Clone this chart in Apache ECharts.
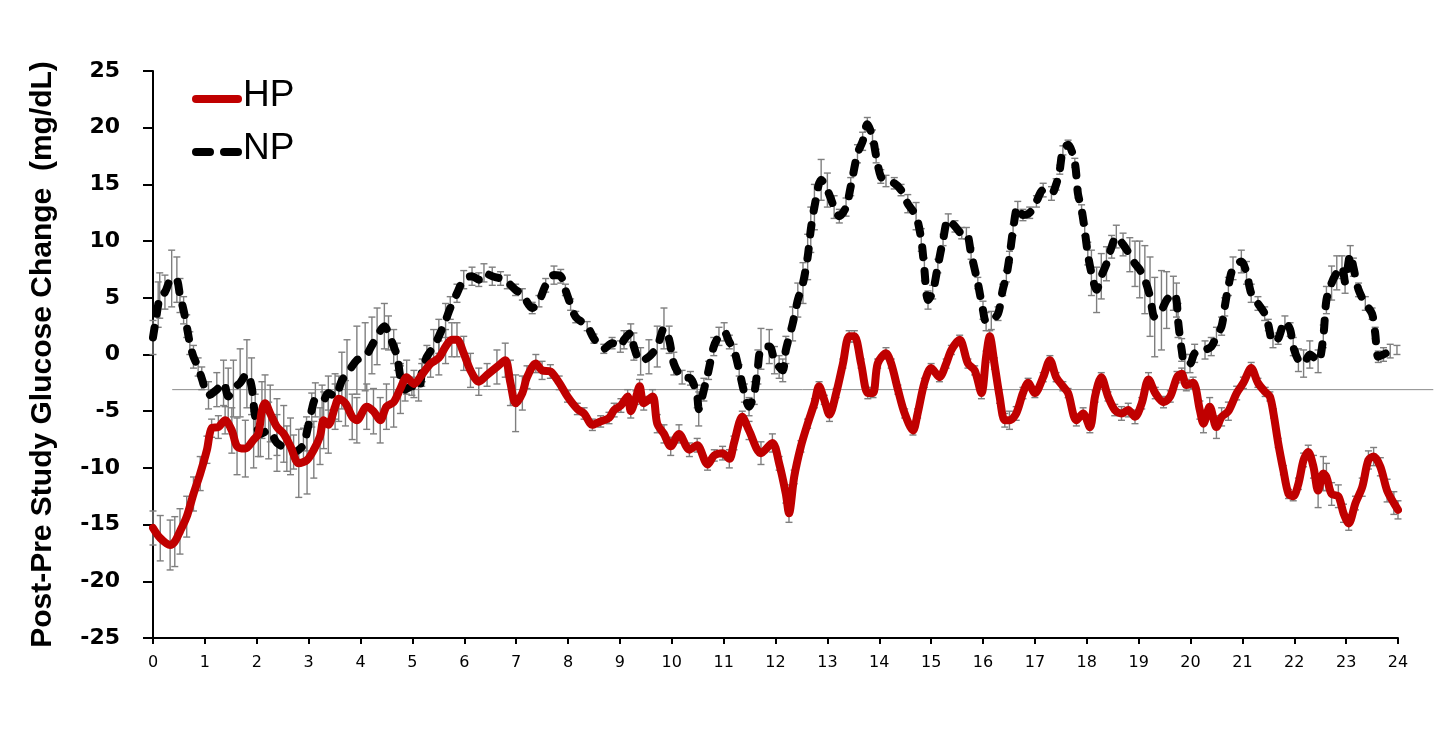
<!DOCTYPE html>
<html>
<head>
<meta charset="utf-8">
<title>Post-Pre Study Glucose Change</title>
<script src="https://cdn.jsdelivr.net/npm/echarts@6/dist/echarts.min.js"></script>
<style>
    html, body {margin: 0; padding: 0; background: #fff;}
    #chart {width: 1456px; height: 748px;}
</style>
</head>
<body>
<div id="chart"></div>
<script>
// hours after start, value (mg/dL), error bar half-width
const hpHours = [0.00, 0.14, 0.33, 0.42, 0.52, 0.65, 0.78, 0.91, 1.04, 1.13, 1.26, 1.39, 1.52, 1.62, 1.78, 1.94, 2.03, 2.10, 2.16, 2.26,
    2.39, 2.52, 2.65, 2.81, 2.97, 3.10, 3.22, 3.29, 3.38, 3.51, 3.58, 3.71, 3.84, 3.93, 4.12, 4.25, 4.38, 4.50, 4.64, 4.77,
    4.89, 5.03, 5.18, 5.35, 5.51, 5.64, 5.76, 5.86, 5.99, 6.12, 6.28, 6.44, 6.63, 6.79, 6.89, 6.99, 7.12, 7.21, 7.38, 7.50,
    7.66, 7.83, 7.99, 8.18, 8.31, 8.47, 8.63, 8.79, 8.89, 9.02, 9.15, 9.21, 9.31, 9.38, 9.46, 9.63, 9.72, 9.85, 9.98, 10.14,
    10.34, 10.49, 10.69, 10.82, 10.98, 11.11, 11.20, 11.36, 11.49, 11.72, 11.94, 12.07, 12.20, 12.26, 12.36, 12.49, 12.62, 12.75, 12.84, 12.94,
    13.04, 13.17, 13.30, 13.42, 13.52, 13.65, 13.78, 13.88, 13.97, 14.13, 14.23, 14.36, 14.49, 14.65, 14.74, 14.87, 15.00, 15.16, 15.29, 15.39,
    15.55, 15.71, 15.84, 15.97, 16.06, 16.13, 16.22, 16.32, 16.42, 16.51, 16.64, 16.77, 16.87, 17.00, 17.16, 17.29, 17.41, 17.54, 17.64, 17.80,
    17.93, 18.06, 18.16, 18.28, 18.41, 18.54, 18.67, 18.80, 18.93, 19.06, 19.19, 19.32, 19.48, 19.61, 19.74, 19.83, 19.92, 20.05, 20.18, 20.25,
    20.37, 20.50, 20.60, 20.73, 20.89, 21.02, 21.17, 21.30, 21.44, 21.53, 21.60, 21.69, 21.79, 21.89, 21.98, 22.08, 22.18, 22.27, 22.37, 22.46,
    22.56, 22.62, 22.72, 22.85, 22.95, 23.05, 23.18, 23.31, 23.43, 23.53, 23.66, 23.79, 23.92, 24.00];
const hpValues = [-15.3, -16.2, -16.8, -16.5, -15.6, -14.3, -12.3, -10.5, -8.4, -6.5, -6.4, -5.8, -6.7, -8.1, -8.3, -7.5, -7.0, -4.9, -4.3, -5.2,
    -6.4, -7.0, -8.1, -9.6, -9.3, -8.4, -7.2, -5.8, -6.2, -4.6, -3.9, -4.3, -5.5, -5.8, -4.6, -5.0, -5.8, -4.6, -4.2, -3.0,
    -2.0, -2.6, -1.8, -0.8, -0.3, 0.7, 1.3, 1.3, 0.1, -1.4, -2.4, -1.8, -1.1, -0.5, -2.5, -4.3, -3.4, -2.0, -0.8, -1.4,
    -1.5, -2.5, -3.7, -4.8, -5.2, -6.2, -5.9, -5.6, -4.9, -4.5, -3.7, -5.0, -3.8, -2.8, -4.3, -3.7, -6.1, -7.0, -8.1, -7.0,
    -8.4, -8.0, -9.7, -8.9, -8.7, -9.2, -7.8, -5.5, -6.7, -8.7, -7.8, -9.6, -12.3, -14.0, -10.8, -8.1, -6.1, -4.3, -2.8, -4.0,
    -5.3, -3.4, -0.8, 1.6, 1.6, -0.8, -3.4, -3.4, -0.8, 0.1, -0.8, -3.1, -5.2, -6.7, -5.2, -2.5, -1.2, -2.0, -0.8, 0.4,
    1.3, -0.8, -1.4, -3.4, -0.2, 1.6, -0.8, -3.7, -5.8, -5.8, -5.2, -3.4, -2.5, -3.4, -2.0, -0.5, -2.0, -2.8, -3.4, -5.8,
    -5.2, -6.4, -3.7, -2.0, -3.7, -4.9, -5.2, -4.9, -5.5, -4.3, -2.2, -3.4, -4.2, -3.7, -2.0, -1.7, -2.7, -2.5, -4.9, -6.1,
    -4.6, -6.4, -5.5, -5.0, -3.4, -2.5, -1.2, -2.5, -3.3, -3.7, -5.2, -7.8, -10.2, -12.3, -12.5, -11.4, -9.3, -8.6, -9.9, -12.0,
    -10.5, -10.8, -12.3, -12.5, -14.0, -14.9, -13.1, -11.7, -9.3, -9.0, -9.9, -12.0, -13.1, -13.7];
const hpErrors = [1.5, 2.0, 2.2, 2.2, 2.0, 1.8, 1.5, 1.5, 1.2, 0.8, 1.0, 1.2, 2.0, 2.5, 2.5, 2.5, 2.0, 2.5, 2.5, 2.5,
    2.5, 2.5, 2.5, 3.0, 3.0, 2.5, 2.5, 2.5, 2.5, 2.0, 2.0, 2.0, 2.0, 2.0, 2.0, 2.0, 2.0, 2.0, 2.2, 2.2,
    1.5, 1.2, 1.0, 1.2, 1.5, 1.5, 1.5, 1.5, 1.5, 1.5, 1.2, 1.0, 1.5, 1.5, 2.0, 2.5, 1.5, 1.0, 0.8, 0.8,
    0.6, 0.6, 0.5, 0.5, 0.5, 0.5, 0.5, 0.5, 0.6, 0.6, 0.6, 0.6, 0.6, 0.6, 0.6, 0.6, 0.8, 0.8, 0.8, 0.8,
    0.6, 0.6, 0.5, 0.5, 0.6, 0.8, 0.6, 0.5, 0.8, 1.0, 0.8, 0.6, 0.8, 0.8, 0.6, 0.5, 0.4, 0.4, 0.4, 0.4,
    0.6, 0.4, 0.4, 0.5, 0.5, 0.4, 0.5, 0.4, 0.4, 0.5, 0.4, 0.4, 0.4, 0.4, 0.4, 0.4, 0.4, 0.4, 0.4, 0.4,
    0.4, 0.4, 0.4, 0.5, 0.5, 0.5, 0.5, 0.6, 0.6, 0.8, 0.6, 0.5, 0.4, 0.4, 0.4, 0.4, 0.4, 0.4, 0.4, 0.5,
    0.5, 0.5, 0.5, 0.4, 0.4, 0.5, 0.6, 0.6, 0.6, 0.5, 0.6, 0.5, 0.5, 0.5, 0.5, 0.5, 0.5, 0.5, 0.8, 0.8,
    0.8, 1.0, 0.8, 0.8, 0.6, 0.5, 0.5, 0.4, 0.4, 0.4, 0.4, 0.4, 0.4, 0.4, 0.4, 0.5, 0.6, 0.6, 1.0, 1.5,
    1.5, 1.2, 1.0, 1.0, 0.8, 0.6, 0.6, 0.8, 0.8, 0.8, 0.8, 1.0, 1.0, 0.8];

const npHours = [0.00, 0.10, 0.13, 0.23, 0.36, 0.46, 0.52, 0.59, 0.65, 0.71, 0.78, 0.87, 0.94, 1.07, 1.23, 1.36, 1.45, 1.55, 1.68, 1.81,
    1.90, 1.97, 2.07, 2.23, 2.39, 2.58, 2.71, 2.90, 2.96, 3.06, 3.13, 3.26, 3.38, 3.51, 3.64, 3.74, 3.93, 4.09, 4.22, 4.32,
    4.46, 4.54, 4.64, 4.71, 4.77, 4.86, 4.99, 5.12, 5.19, 5.28, 5.41, 5.51, 5.64, 5.73, 5.86, 5.99, 6.15, 6.28, 6.38, 6.54,
    6.70, 6.83, 6.99, 7.12, 7.31, 7.44, 7.57, 7.73, 7.86, 7.95, 8.05, 8.15, 8.37, 8.50, 8.69, 8.85, 9.01, 9.08, 9.21, 9.27,
    9.40, 9.56, 9.72, 9.85, 9.95, 10.04, 10.20, 10.36, 10.49, 10.52, 10.62, 10.71, 10.81, 10.91, 11.01, 11.11, 11.20, 11.30, 11.40, 11.49,
    11.59, 11.66, 11.72, 11.88, 11.98, 12.07, 12.14, 12.20, 12.33, 12.43, 12.53, 12.62, 12.68, 12.75, 12.88, 13.00, 13.13, 13.23, 13.36, 13.45,
    13.58, 13.68, 13.77, 13.87, 13.94, 14.03, 14.13, 14.29, 14.42, 14.55, 14.71, 14.81, 14.87, 14.94, 15.03, 15.13, 15.23, 15.33, 15.46, 15.59,
    15.68, 15.77, 15.90, 16.00, 16.06, 16.16, 16.29, 16.38, 16.45, 16.51, 16.58, 16.67, 16.77, 16.90, 17.03, 17.16, 17.32, 17.41, 17.48, 17.54,
    17.64, 17.77, 17.83, 17.90, 17.96, 18.02, 18.09, 18.19, 18.28, 18.38, 18.48, 18.57, 18.70, 18.83, 18.93, 19.02, 19.12, 19.22, 19.31, 19.44,
    19.54, 19.67, 19.73, 19.76, 19.83, 19.89, 19.99, 20.08, 20.28, 20.40, 20.50, 20.60, 20.66, 20.73, 20.82, 20.98, 21.08, 21.17, 21.30, 21.43,
    21.50, 21.59, 21.69, 21.82, 21.92, 21.98, 22.08, 22.18, 22.30, 22.46, 22.56, 22.62, 22.72, 22.82, 22.92, 22.98, 23.08, 23.14, 23.24, 23.37,
    23.50, 23.56, 23.62, 23.72, 23.85, 23.98];
const npValues = [1.5, 4.4, 5.2, 5.5, 6.7, 6.6, 5.2, 3.9, 2.5, 1.0, -0.2, -1.1, -2.1, -3.6, -3.1, -2.5, -3.7, -3.0, -2.5, -1.7,
    -2.8, -5.5, -7.0, -6.7, -7.8, -8.3, -8.6, -8.0, -7.0, -4.9, -4.0, -4.2, -3.4, -3.7, -2.3, -1.7, -0.5, -0.2, 0.8, 1.6,
    2.5, 1.9, 0.7, -0.2, -2.0, -3.1, -2.8, -3.1, -1.4, -0.2, 0.7, 1.6, 3.0, 4.1, 5.4, 6.6, 6.9, 6.6, 7.2, 6.9,
    6.7, 6.4, 5.7, 5.3, 4.1, 4.7, 6.1, 7.0, 6.9, 5.7, 4.4, 3.3, 2.5, 1.4, 0.5, 1.0, 0.7, 1.3, 1.9, 0.7,
    -0.6, -0.2, 0.7, 2.3, 1.3, -0.8, -2.0, -2.1, -3.7, -4.8, -3.1, -1.4, 0.7, 1.6, 2.0, 1.1, 0.4, -1.4, -3.4, -4.6,
    -3.4, -1.1, 0.5, 0.7, -0.5, -1.1, -1.4, 0.4, 2.7, 4.8, 6.3, 8.6, 11.0, 13.0, 15.4, 14.5, 13.0, 12.2, 13.0, 14.8,
    17.7, 18.8, 20.3, 19.2, 17.5, 15.7, 15.3, 15.1, 14.5, 13.3, 12.2, 10.1, 7.5, 4.8, 5.5, 7.8, 10.1, 11.9, 11.3, 10.7,
    10.7, 8.9, 6.3, 3.9, 2.9, 3.0, 3.6, 5.7, 6.9, 8.6, 11.0, 13.0, 12.3, 12.5, 13.5, 14.5, 14.2, 15.0, 16.3, 18.0,
    18.5, 16.9, 14.2, 12.8, 11.0, 8.9, 7.2, 5.7, 6.9, 8.0, 9.5, 10.4, 9.7, 8.8, 8.0, 7.5, 6.6, 5.1, 3.3, 3.9,
    4.8, 5.4, 4.8, 3.0, 0.4, -0.8, -0.8, 0.1, 0.4, 0.7, 1.6, 2.5, 4.2, 6.0, 7.6, 8.2, 7.2, 5.4, 4.5, 3.6,
    2.6, 1.1, 1.4, 2.9, 2.2, 0.7, -0.5, -0.8, 0.0, -0.6, 1.6, 4.8, 6.3, 7.2, 7.7, 6.4, 8.8, 7.7, 5.7, 4.5,
    3.6, 1.9, -0.2, 0.0, 0.3, 0.4];
const npErrors = [1.5, 2.0, 2.0, 1.5, 2.5, 2.0, 1.5, 1.2, 1.0, 1.0, 1.0, 0.8, 1.0, 1.2, 1.5, 2.0, 2.5, 2.5, 3.0, 3.0,
    2.5, 2.0, 2.0, 2.5, 2.5, 2.0, 1.5, 1.5, 1.5, 1.5, 1.5, 1.5, 1.5, 2.0, 2.5, 3.0, 3.0, 3.0, 2.5, 2.5,
    2.0, 1.5, 1.5, 1.2, 1.0, 1.0, 0.8, 1.0, 1.0, 1.0, 1.5, 1.5, 1.5, 1.0, 0.8, 0.8, 0.8, 0.6, 0.8, 0.8,
    0.6, 0.6, 0.5, 0.5, 0.5, 0.5, 0.6, 0.8, 0.6, 0.5, 0.5, 0.5, 0.4, 0.4, 0.4, 0.5, 0.5, 0.8, 0.8, 1.2,
    1.2, 1.5, 1.8, 1.8, 1.2, 1.0, 0.6, 0.6, 1.0, 1.5, 1.0, 0.8, 0.8, 0.8, 0.8, 0.6, 0.5, 0.5, 0.8, 0.8,
    1.0, 1.5, 1.8, 1.5, 1.2, 1.0, 1.0, 1.2, 1.5, 1.5, 1.8, 2.0, 2.0, 2.0, 1.8, 1.5, 1.0, 0.6, 0.8, 0.8,
    0.8, 0.8, 0.6, 0.6, 0.6, 0.6, 0.5, 0.5, 0.5, 0.8, 1.2, 1.0, 1.0, 0.8, 0.6, 0.6, 0.5, 0.5, 0.5, 0.5,
    0.5, 0.5, 0.5, 0.8, 0.8, 0.8, 0.6, 0.5, 0.5, 0.5, 0.5, 0.5, 0.5, 0.5, 0.5, 0.6, 0.6, 0.5, 0.4, 0.4,
    0.4, 0.4, 0.4, 0.4, 0.5, 1.0, 2.0, 2.0, 2.0, 1.5, 1.0, 1.0, 1.0, 1.5, 2.0, 2.5, 3.0, 3.5, 3.5, 3.5,
    2.5, 1.5, 1.5, 1.5, 1.0, 0.8, 0.8, 0.8, 0.8, 0.8, 0.8, 0.8, 0.8, 0.8, 1.0, 1.0, 1.0, 0.8, 0.6, 0.6,
    0.5, 0.5, 0.5, 0.5, 0.6, 0.8, 1.0, 1.2, 1.2, 1.0, 1.0, 1.2, 1.5, 1.5, 1.0, 1.0, 0.8, 0.8, 0.6, 0.6,
    0.5, 0.5, 0.5, 0.6, 0.6, 0.4];

const xTicks = {min: 0, max: 24, step: 1};
const yTicks = {min: -25, max: 25, step: 5};
// thin grey reference line (value, start hour, end hour)
const refLine = [-3.1, 0.37, 24.68];
const seriesNames = ['HP', 'NP'];

const HP_RED = '#c00000';
const fontName = '"Liberation Sans", Arial, sans-serif';
const wideFont = '"DejaVu Sans", "Liberation Sans", sans-serif';

function pairs(hours, values) {
    return hours.map((h, i) => [h, values[i]]);
}

function errorRows(hours, values, errs) {
    return hours.map((h, i) => [h, values[i] - errs[i], values[i] + errs[i]]);
}

function renderError(params, api) {
    let x = api.value(0);
    let lo = api.coord([x, api.value(1)]);
    let hi = api.coord([x, api.value(2)]);
    let cap = 3.5;
    let style = {stroke: '#7f7f7f', lineWidth: 1.4, fill: null};
    return {
        type: 'group',
        children: [
            {type: 'line', shape: {x1: lo[0], y1: lo[1], x2: hi[0], y2: hi[1]}, style: style},
            {type: 'line', shape: {x1: lo[0] - cap, y1: lo[1], x2: lo[0] + cap, y2: lo[1]}, style: style},
            {type: 'line', shape: {x1: hi[0] - cap, y1: hi[1], x2: hi[0] + cap, y2: hi[1]}, style: style}
        ]
    };
}

let myChart = echarts.init(document.getElementById('chart'), null, {renderer: 'canvas'});

let option = {
    backgroundColor: '#fff',
    animation: false,
    grid: {left: 153, right: 58, top: 71, bottom: 110, containLabel: false},
    xAxis: {
        type: 'value',
        min: xTicks.min,
        max: xTicks.max,
        interval: xTicks.step,
        axisLine: {show: true, onZero: false, lineStyle: {color: '#000', width: 2}},
        axisTick: {show: true, inside: false, length: 6, lineStyle: {color: '#000', width: 2}},
        axisLabel: {fontFamily: wideFont, fontSize: 16, color: '#000', margin: 17},
        splitLine: {show: false}
    },
    yAxis: {
        type: 'value',
        min: yTicks.min,
        max: yTicks.max,
        interval: yTicks.step,
        name: 'Post-Pre Study Glucose Change  (mg/dL)',
        nameLocation: 'middle',
        nameGap: 95,
        nameTextStyle: {fontFamily: fontName, fontSize: 30, fontWeight: 'bold', color: '#000'},
        axisLine: {show: true, lineStyle: {color: '#000', width: 2}},
        axisTick: {show: true, inside: false, length: 10, lineStyle: {color: '#000', width: 2}},
        axisLabel: {fontFamily: wideFont, fontSize: 22, fontWeight: 'bold', color: '#000', margin: 33},
        splitLine: {show: false}
    },
    series: [
        {
            name: 'HP err',
            type: 'custom',
            renderItem: renderError,
            data: errorRows(hpHours, hpValues, hpErrors),
            encode: {x: 0, y: [1, 2]},
            silent: true,
            z: 1
        },
        {
            name: 'NP err',
            type: 'custom',
            renderItem: renderError,
            data: errorRows(npHours, npValues, npErrors),
            encode: {x: 0, y: [1, 2]},
            silent: true,
            z: 1
        },
        {
            name: seriesNames[1],
            type: 'line',
            data: pairs(npHours, npValues),
            symbol: 'none',
            smooth: 0.3,
            color: '#000',
            lineStyle: {color: '#000', width: 8, type: [10, 14], cap: 'round', join: 'round'},
            z: 3
        },
        {
            name: seriesNames[0],
            type: 'line',
            data: pairs(hpHours, hpValues),
            symbol: 'none',
            smooth: 0.3,
            color: HP_RED,
            lineStyle: {color: HP_RED, width: 8, cap: 'round', join: 'round'},
            z: 4
        }
    ]
};

myChart.setOption(option, true);

// grey reference line placed through the axes
let p1 = myChart.convertToPixel({gridIndex: 0}, [refLine[1], refLine[0]]);
let p2 = myChart.convertToPixel({gridIndex: 0}, [refLine[2], refLine[0]]);

// legend drawn by hand so the line samples keep their full weight
const legendLeft = 196, legendTop = 99, legendRow = 53, sampleLen = 42;
myChart.setOption({
    graphic: [
        {
            type: 'line',
            shape: {x1: p1[0], y1: p1[1], x2: p2[0], y2: p2[1]},
            style: {stroke: '#8c8c8c', lineWidth: 1},
            z: 0,
            silent: true
        },
        {
            type: 'line',
            shape: {x1: legendLeft, y1: legendTop, x2: legendLeft + sampleLen, y2: legendTop},
            style: {stroke: HP_RED, lineWidth: 8, lineCap: 'round'},
            z: 10
        },
        {
            type: 'line',
            shape: {x1: legendLeft, y1: legendTop + legendRow, x2: legendLeft + sampleLen, y2: legendTop + legendRow},
            style: {stroke: '#000', lineWidth: 8, lineCap: 'round', lineDash: [14, 14]},
            z: 10
        },
        {
            type: 'text',
            left: legendLeft + sampleLen + 5,
            top: legendTop - 22,
            style: {text: seriesNames[0], font: '37px ' + fontName, fill: '#000'},
            z: 10
        },
        {
            type: 'text',
            left: legendLeft + sampleLen + 5,
            top: legendTop + legendRow - 22,
            style: {text: seriesNames[1], font: '37px ' + fontName, fill: '#000'},
            z: 10
        }
    ]
});
</script>
</body>
</html>
